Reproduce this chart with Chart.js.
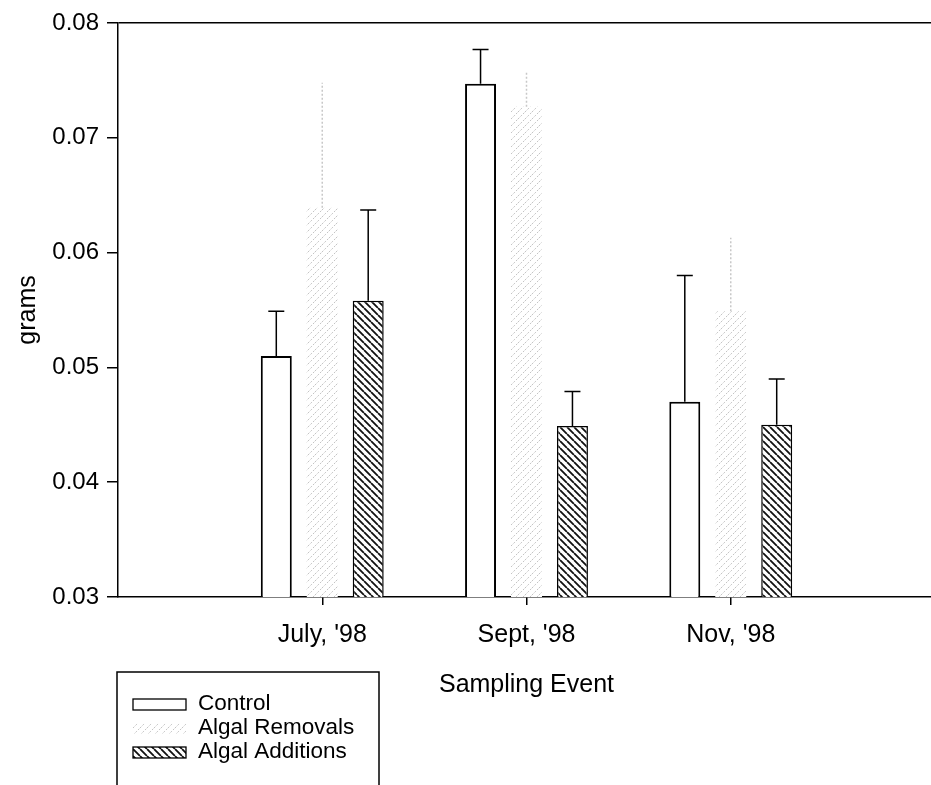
<!DOCTYPE html>
<html>
<head>
<meta charset="utf-8">
<script src="https://cdn.jsdelivr.net/npm/chart.js@4"></script>
<style>
  body { margin: 0; background: #fff; }
  #wrap { width: 931px; height: 785px; overflow: hidden; }
</style>
</head>
<body>
<div id="wrap"><canvas id="chart" width="950" height="785"></canvas></div>
<script>
const categories = ["July, '98", "Sept, '98", "Nov, '98"];
const seriesNames = ["Control", "Algal Removals", "Algal Additions"];
const controlMeans = [0.0510, 0.0747, 0.0470];
const controlErr = [0.0039, 0.0030, 0.0110];
const removalMeans = [0.0639, 0.0727, 0.0549];
const removalErr = [0.0109, 0.0031, 0.0064];
const additionMeans = [0.0558, 0.0449, 0.0450];
const additionErr = [0.0079, 0.0030, 0.0040];
const yTicks = [0.03, 0.04, 0.05, 0.06, 0.07, 0.08];

const FONT = "'Liberation Sans', Arial, sans-serif";

// empty slot at each end so the three groups sit at 1, 2, 3 on a 0..4 axis
const labels = ["", ...categories, ""];
const pad = arr => [null, ...arr, null];

// diagonal hatch tile; dir 1 = "\\", -1 = "/"
function hatch(color, lineWidth, dir, size, dash) {
  const c = document.createElement("canvas");
  c.width = size; c.height = size;
  const g = c.getContext("2d");
  g.fillStyle = "#fff";
  g.fillRect(0, 0, size, size);
  g.strokeStyle = color;
  g.lineWidth = lineWidth;
  if (dash) g.setLineDash(dash);
  g.beginPath();
  for (let k = -1; k <= 1; k++) {
    if (dir > 0) {
      g.moveTo(k * size, 0); g.lineTo(k * size + size, size);
    } else {
      g.moveTo(k * size, size); g.lineTo(k * size + size, 0);
    }
  }
  g.stroke();
  return g.createPattern(c, "repeat");
}

const removalFill = hatch("#c4c4c4", 1, -1, 7, [2, 1.5]);
const additionFill = hatch("#111", 1.8, 1, 7);

// upward error bars
const errorBars = {
  id: "errorBars",
  afterDatasetsDraw(chart) {
    const ctx = chart.ctx;
    const y = chart.scales.y;
    chart.data.datasets.forEach((ds, i) => {
      const meta = chart.getDatasetMeta(i);
      meta.data.forEach((bar, j) => {
        const v = ds.data[j];
        const e = ds.errors[j];
        if (v == null || e == null) return;
        const top = y.getPixelForValue(v + e);
        ctx.save();
        ctx.strokeStyle = ds.errorColor;
        ctx.lineWidth = 1.5;
        ctx.setLineDash(ds.errorDash || []);
        ctx.beginPath();
        ctx.moveTo(bar.x, bar.y);
        ctx.lineTo(bar.x, top);
        if (ds.errorCap) {
          ctx.moveTo(bar.x - 8, top);
          ctx.lineTo(bar.x + 8, top);
        }
        ctx.stroke();
        ctx.restore();
      });
    });
  }
};

// boxed legend under the left end of the x axis
const boxLegend = {
  id: "boxLegend",
  afterDraw(chart) {
    const ctx = chart.ctx;
    const left = chart.chartArea.left - 1;
    const top = 672;
    ctx.save();
    ctx.strokeStyle = "#000";
    ctx.lineWidth = 1.5;
    ctx.strokeRect(left, top, 262, 140);
    ctx.font = "22.5px " + FONT;
    ctx.textBaseline = "middle";
    chart.data.datasets.forEach((ds, i) => {
      const cy = 704 + i * 24;
      ctx.fillStyle = ds.backgroundColor;
      ctx.fillRect(left + 16, cy - 5, 53, 11);
      if (ds.borderWidth) {
        ctx.strokeStyle = "#000";
        ctx.lineWidth = 1.3;
        ctx.strokeRect(left + 16, cy - 5, 53, 11);
      }
      ctx.fillStyle = "#000";
      ctx.fillText(ds.label, left + 81, cy);
    });
    ctx.restore();
  }
};

new Chart(document.getElementById("chart"), {
  type: "bar",
  data: {
    labels: labels,
    datasets: [
      {
        label: seriesNames[0],
        data: pad(controlMeans),
        errors: pad(controlErr),
        backgroundColor: "#fff",
        borderColor: "#000",
        borderWidth: 2,
        errorColor: "#000",
        errorCap: true
      },
      {
        label: seriesNames[1],
        data: pad(removalMeans),
        errors: pad(removalErr),
        backgroundColor: removalFill,
        borderWidth: 0,
        errorColor: "#c8c8c8",
        errorDash: [2, 2],
        errorCap: false
      },
      {
        label: seriesNames[2],
        data: pad(additionMeans),
        errors: pad(additionErr),
        backgroundColor: additionFill,
        borderColor: "#000",
        borderWidth: 1.5,
        errorColor: "#000",
        errorCap: true
      }
    ]
  },
  options: {
    responsive: false,
    animation: false,
    categoryPercentage: 0.675,
    barPercentage: 0.674,
    layout: { autoPadding: false, padding: { left: 0, top: 23, right: 5, bottom: 85 } },
    plugins: {
      legend: { display: false },
      tooltip: { enabled: false }
    },
    scales: {
      x: {
        offset: false,
        afterFit: s => { s.height = 103; },
        grid: {
          offset: false,
          drawOnChartArea: false,
          tickLength: 8,
          tickColor: c => (labels[c.index] ? "#000" : "rgba(0,0,0,0)"),
          lineWidth: 1.5
        },
        border: { color: "#000", width: 1.5 },
        ticks: {
          color: "#000",
          padding: 15,
          maxRotation: 0,
          autoSkip: false,
          font: { family: FONT, size: 25 }
        },
        title: {
          display: true,
          text: "Sampling Event",
          color: "#000",
          padding: 0,
          font: { family: FONT, size: 25 }
        }
      },
      y: {
        min: 0.03,
        max: 0.08,
        afterFit: s => { s.width = 118; },
        afterBuildTicks: s => { s.ticks = yTicks.map(v => ({ value: v })); },
        grid: {
          color: c => (c.index === yTicks.length - 1 ? "#000" : "rgba(0,0,0,0)"),
          tickColor: "#000",
          tickLength: 11,
          lineWidth: 1.5
        },
        border: { color: "#000", width: 1.5 },
        ticks: {
          color: "#000",
          padding: 8,
          font: { family: FONT, size: 24 },
          callback: v => v.toFixed(2)
        },
        title: {
          display: true,
          text: "grams",
          color: "#000",
          padding: 13,
          font: { family: FONT, size: 25 }
        }
      }
    }
  },
  plugins: [errorBars, boxLegend]
});
</script>
</body>
</html>
